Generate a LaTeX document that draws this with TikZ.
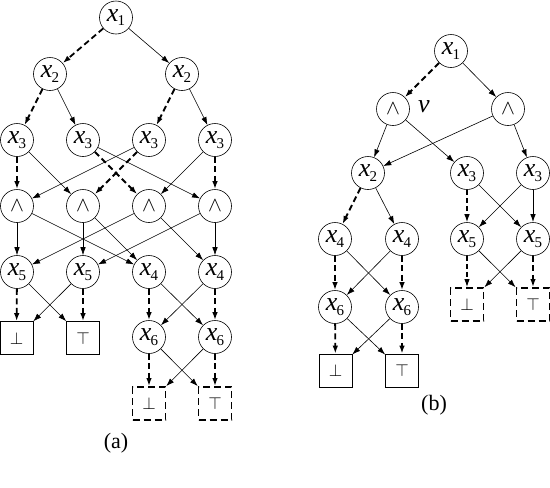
\documentclass[tikz,border=0pt]{standalone}
\usepackage{fontspec}
\setmainfont{Liberation Serif}
\usetikzlibrary{arrows.meta}
\newcommand\xv[1]{{\fontsize{26}{26}\selectfont\textit{x}}\kern-1pt\raisebox{-4.5pt}{\fontsize{15}{15}\selectfont #1}}
\tikzset{
 vnode/.style={circle,draw,line width=0.6pt,minimum size=33pt,inner sep=0pt,font=\fontsize{22}{22}\selectfont},
 leaf/.style={rectangle,draw,line width=0.6pt,minimum size=33pt,inner sep=0pt,font=\fontsize{19}{19}\selectfont},
 dleaf/.style={leaf,line width=1.8pt,dash pattern=on 7pt off 4pt},
 sol/.style={-{Latex[length=8pt,width=5.5pt]},line width=0.6pt},
 dsh/.style={-{Latex[length=8pt,width=5.5pt]},line width=1.8pt,dash pattern=on 6pt off 3.5pt},
 tdsh/.style={-{Latex[length=8pt,width=5.5pt]},line width=1.1pt,dash pattern=on 5pt off 3pt},
 lbl/.style={font=\fontsize{22}{22}\selectfont,inner sep=0pt}
}
\begin{document}
\begin{tikzpicture}[x=1pt,y=-1pt]
\useasboundingbox (0,0) rectangle (550,488);
% ---------- (a) ----------
\node[vnode] (a1) at (116,17.5) {\xv{1}};
\node[vnode] (a21) at (50,74) {\xv{2}};
\node[vnode] (a22) at (182,74) {\xv{2}};
\node[vnode] (a31) at (17,140) {\xv{3}};
\node[vnode] (a32) at (83,140) {\xv{3}};
\node[vnode] (a33) at (149,140) {\xv{3}};
\node[vnode] (a34) at (215,140) {\xv{3}};
\node[vnode] (aw1) at (17,206) {$\wedge$};
\node[vnode] (aw2) at (83,206) {$\wedge$};
\node[vnode] (aw3) at (149,206) {$\wedge$};
\node[vnode] (aw4) at (215,206) {$\wedge$};
\node[vnode] (a51) at (17,272) {\xv{5}};
\node[vnode] (a52) at (83,272) {\xv{5}};
\node[vnode] (a41) at (149,272) {\xv{4}};
\node[vnode] (a42) at (215,272) {\xv{4}};
\node[leaf] (abot) at (16.5,338) {$\bot$};
\node[leaf] (atop) at (83,338) {$\top$};
\node[vnode] (a61) at (149,337) {\xv{6}};
\node[vnode] (a62) at (215,337) {\xv{6}};
\node[dleaf] (adbot) at (149,403.5) {$\bot$};
\node[dleaf] (adtop) at (215,403.5) {$\top$};
\node[lbl] (la) at (116,443) {(a)};

\draw[dsh] (a1) -- (a21);
\draw[sol] (a1) -- (a22);
\draw[dsh] (a21) -- (a31);
\draw[sol] (a21) -- (a32);
\draw[dsh] (a22) -- (a33);
\draw[sol] (a22) -- (a34);
\draw[dsh] (a31) -- (aw1);
\draw[sol] (a31) -- (aw2);
\draw[dsh] (a32) -- (aw3);
\draw[sol] (a32) -- (aw4);
\draw[dsh] (a33) -- (aw2);
\draw[sol] (a33) -- (aw1);
\draw[dsh] (a34) -- (aw4);
\draw[sol] (a34) -- (aw3);
\draw[sol] (aw1) -- (a51);
\draw[sol] (aw1) -- (a41);
\draw[sol] (aw2) -- (a52);
\draw[sol] (aw2) -- (a41);
\draw[sol] (aw3) -- (a51);
\draw[sol] (aw3) -- (a42);
\draw[sol] (aw4) -- (a52);
\draw[sol] (aw4) -- (a42);
\draw[dsh] (a51) -- (abot);
\draw[sol] (a51) -- (atop);
\draw[sol] (a52) -- (abot);
\draw[dsh] (a52) -- (atop);
\draw[dsh] (a41) -- (a61);
\draw[sol] (a41) -- (a62);
\draw[sol] (a42) -- (a61);
\draw[dsh] (a42) -- (a62);
\draw[dsh] (a61) -- (adbot);
\draw[sol] (a61) -- (adtop);
\draw[sol] (a62) -- (adbot);
\draw[dsh] (a62) -- (adtop);
% ---------- (b) ----------
\node[vnode] (b1) at (451,51) {\xv{1}};
\node[vnode] (bw1) at (393,109) {$\wedge$};
\node[vnode] (bw2) at (508,109) {$\wedge$};
\node[lbl] (nu) at (424,107) {\fontsize{26}{26}\selectfont\textit{ν}};
\node[vnode] (b2) at (368,173) {\xv{2}};
\node[vnode] (b31) at (467,173) {\xv{3}};
\node[vnode] (b32) at (533,173) {\xv{3}};
\node[vnode] (b41) at (335,239) {\xv{4}};
\node[vnode] (b42) at (402,239) {\xv{4}};
\node[vnode] (b51) at (467,239) {\xv{5}};
\node[vnode] (b52) at (533,239) {\xv{5}};
\node[vnode] (b61) at (335,307) {\xv{6}};
\node[vnode] (b62) at (402,307) {\xv{6}};
\node[dleaf] (bdbot) at (467,304.5) {$\bot$};
\node[dleaf] (bdtop) at (533,304.5) {$\top$};
\node[leaf] (bbot) at (335.5,370.5) {$\bot$};
\node[leaf] (btop) at (402,370.5) {$\top$};
\node[lbl] (lb) at (434,405) {(b)};

\draw[dsh] (b1) -- (bw1);
\draw[sol] (b1) -- (bw2);
\draw[sol] (bw1) -- (b2);
\draw[sol] (bw1) -- (b31);
\draw[sol] (bw2) -- (b2);
\draw[sol] (bw2) -- (b32);
\draw[dsh] (b2) -- (b41);
\draw[sol] (b2) -- (b42);
\draw[tdsh] (b31) -- (b51);
\draw[sol] (b31) -- (b52);
\draw[sol] (b32) -- (b51);
\draw[sol,line width=1pt] (b32) -- (b52);
\draw[dsh] (b41) -- (b61);
\draw[sol] (b41) -- (b62);
\draw[sol] (b42) -- (b61);
\draw[dsh] (b42) -- (b62);
\draw[tdsh] (b51) -- (bdbot);
\draw[sol] (b51) -- (bdtop);
\draw[sol] (b52) -- (bdbot);
\draw[dsh] (b52) -- (bdtop);
\draw[dsh] (b61) -- (bbot);
\draw[sol] (b61) -- (btop);
\draw[sol] (b62) -- (bbot);
\draw[dsh] (b62) -- (btop);
\end{tikzpicture}
\end{document}
